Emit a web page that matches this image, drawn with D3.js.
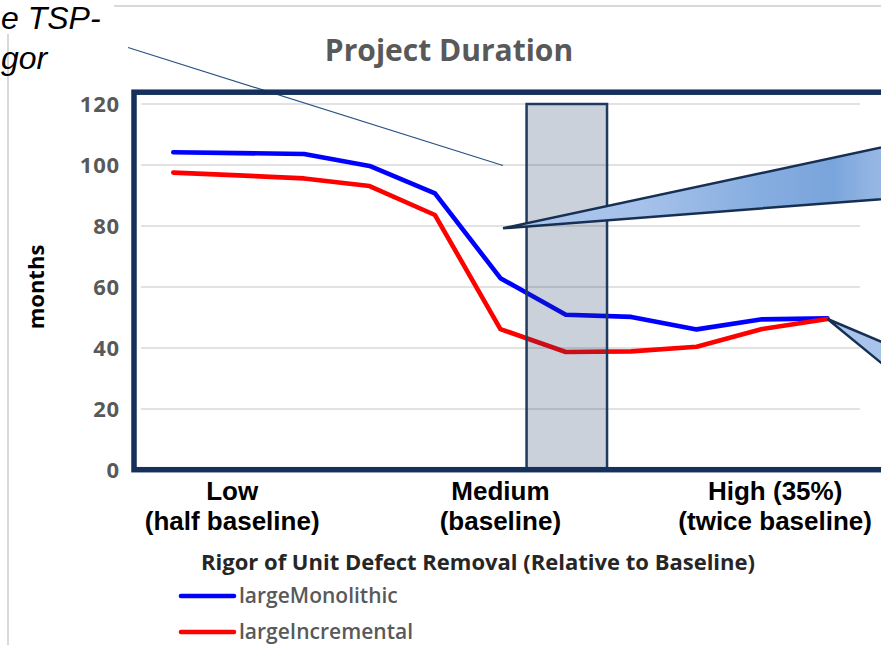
<!DOCTYPE html>
<html>
<head>
<meta charset="utf-8">
<script src="https://cdn.jsdelivr.net/npm/d3@7/dist/d3.min.js"></script>
<style>
  html, body { margin: 0; padding: 0; background: #ffffff; }
  svg { display: block; }
</style>
</head>
<body>
<svg id="chart" width="881" height="647"></svg>
<script>
// Project duration (months) at eleven levels of unit defect-removal rigor
const steps = [0, 1, 2, 3, 4, 5, 6, 7, 8, 9, 10];
const largeMonolithic = [104.2, 103.9, 103.6, 99.7, 90.7, 62.9, 50.9, 50.2, 46.1, 49.4, 49.7];
const largeIncremental = [97.5, 96.6, 95.6, 93.1, 83.6, 46.2, 38.7, 38.9, 40.4, 46.2, 49.5];
const yTicks = [0, 20, 40, 60, 80, 100, 120];
const categoryLines = [["Low", "(half baseline)"], ["Medium", "(baseline)"], ["High (35%)", "(twice baseline)"]];
const categoryAt = [0.9, 5.0, 9.2];
const bandRange = [5.4, 6.63];
const seriesNames = ["largeMonolithic", "largeIncremental"];
const seriesColors = ["#0000ff", "#ff0000"];

const svg = d3.select("#chart");
const W = 881, H = 647;
svg.append("rect").attr("width", W).attr("height", H).attr("fill", "#ffffff");

const x = d3.scaleLinear().domain([0, 10]).range([173.3, 827.5]);
const y = d3.scaleLinear().domain([0, 120]).range([470, 104]);

// outer chart-area border (light gray)
svg.append("line").attr("x1", 114).attr("x2", W).attr("y1", 6).attr("y2", 6)
  .attr("stroke", "#d9d9d9").attr("stroke-width", 2);
svg.append("line").attr("x1", 8).attr("x2", 8).attr("y1", 34).attr("y2", 645)
  .attr("stroke", "#d9d9d9").attr("stroke-width", 2);

// italic caption fragment at the upper left
const cap = svg.append("g").attr("font-family", "'Liberation Sans', Arial, sans-serif")
  .attr("font-style", "italic").attr("font-size", 32).attr("fill", "#000");
cap.append("text").attr("x", 1).attr("y", 29).text("e TSP-");
cap.append("text").attr("x", 1).attr("y", 69).text("gor");

// title
svg.append("text").attr("x", 449).attr("y", 61).attr("text-anchor", "middle")
  .attr("font-family", "'Open Sans', sans-serif").attr("font-weight", 700)
  .attr("font-size", 30).attr("fill", "#595959").text("Project Duration");

// gridlines
svg.append("g").selectAll("line").data(yTicks.filter(d => d > 0)).join("line")
  .attr("x1", 141).attr("x2", 860)
  .attr("y1", d => y(d)).attr("y2", d => y(d))
  .attr("stroke", "#d9d9d9").attr("stroke-width", 1.5);

// y axis labels
const yAxis = d3.axisLeft(y).tickValues(yTicks).tickSize(0).tickPadding(0);
const yg = svg.append("g").attr("transform", "translate(120,0)").call(yAxis);
yg.select(".domain").remove();
yg.selectAll("text").attr("font-family", "'Open Sans', sans-serif").attr("font-weight", 700)
  .attr("font-size", 22).attr("fill", "#595959").attr("letter-spacing", 0.8);

// y axis title
svg.append("text").attr("transform", "translate(44,287) rotate(-90)")
  .attr("text-anchor", "middle").attr("font-family", "'Open Sans', sans-serif")
  .attr("font-weight", 700).attr("font-size", 22).attr("fill", "#000").text("months");

// series lines
const line = d3.line().x((d, i) => x(steps[i])).y(d => y(d));
[largeMonolithic, largeIncremental].forEach((vals, k) => {
  svg.append("path").datum(vals).attr("d", line)
    .attr("fill", "none").attr("stroke", seriesColors[k]).attr("stroke-width", 4.6)
    .attr("stroke-linejoin", "round").attr("stroke-linecap", "round");
});

// highlighted band around the baseline rigor
svg.append("rect")
  .attr("x", x(bandRange[0])).attr("width", x(bandRange[1]) - x(bandRange[0]))
  .attr("y", y(120)).attr("height", y(0) - y(120))
  .attr("fill", "rgba(31,56,100,0.23)").attr("stroke", "#1f3a5f").attr("stroke-width", 2.5);

// callout wedges
const defs = svg.append("defs");
const grad = defs.append("linearGradient").attr("id", "wedgeFill")
  .attr("gradientUnits", "userSpaceOnUse").attr("x1", 503).attr("x2", 960).attr("y1", 0).attr("y2", 0);
[[0, "#aac5ec"], [0.3, "#a6c2ea"], [0.55, "#88aee0"], [0.72, "#79a5dc"], [0.86, "#a2bee6"], [1, "#bcd1ee"]]
  .forEach(s => grad.append("stop").attr("offset", s[0]).attr("stop-color", s[1]));

svg.append("path")
  .attr("d", "M503,228.3 L1000,122 L1000,190 Z")
  .attr("fill", "url(#wedgeFill)").attr("stroke", "#172f52").attr("stroke-width", 2.5)
  .attr("stroke-linejoin", "miter");
svg.append("path")
  .attr("d", `M${x(10)},${y(largeIncremental[10])} L1000,392 L1000,460 Z`)
  .attr("fill", "#a9c4ea").attr("stroke", "#172f52").attr("stroke-width", 2.5);

// thin pointer line
svg.append("line").attr("x1", 128).attr("y1", 47.5).attr("x2", 503).attr("y2", 165.5)
  .attr("stroke", "#2a5283").attr("stroke-width", 1.2);

// plot frame
svg.append("rect").attr("x", 134).attr("y", 92.2).attr("width", 800).attr("height", 377.5)
  .attr("fill", "none").attr("stroke", "#15305a").attr("stroke-width", 5.5);

// category labels
const cg = svg.append("g").attr("font-family", "'Liberation Sans', Arial, sans-serif")
  .attr("font-weight", 700).attr("font-size", 26).attr("fill", "#000").attr("text-anchor", "middle");
categoryLines.forEach((lines, i) => {
  lines.forEach((t, j) => {
    cg.append("text").attr("x", x(categoryAt[i])).attr("y", 500 + j * 30).text(t);
  });
});

// x axis title
svg.append("text").attr("x", 478).attr("y", 570).attr("text-anchor", "middle")
  .attr("font-family", "'Open Sans', sans-serif").attr("font-weight", 700)
  .attr("font-size", 22).attr("fill", "#262626")
  .text("Rigor of Unit Defect Removal (Relative to Baseline)");

// legend
const lg = svg.append("g");
seriesNames.forEach((name, k) => {
  const ly = 596 + k * 36;
  lg.append("line").attr("x1", 181).attr("x2", 234).attr("y1", ly).attr("y2", ly)
    .attr("stroke", seriesColors[k]).attr("stroke-width", 4.6).attr("stroke-linecap", "round");
  lg.append("text").attr("x", 239).attr("y", ly + 7)
    .attr("font-family", "'Open Sans', sans-serif").attr("font-weight", 600)
    .attr("font-size", 21).attr("fill", "#595959").text(name);
});
</script>
</body>
</html>
